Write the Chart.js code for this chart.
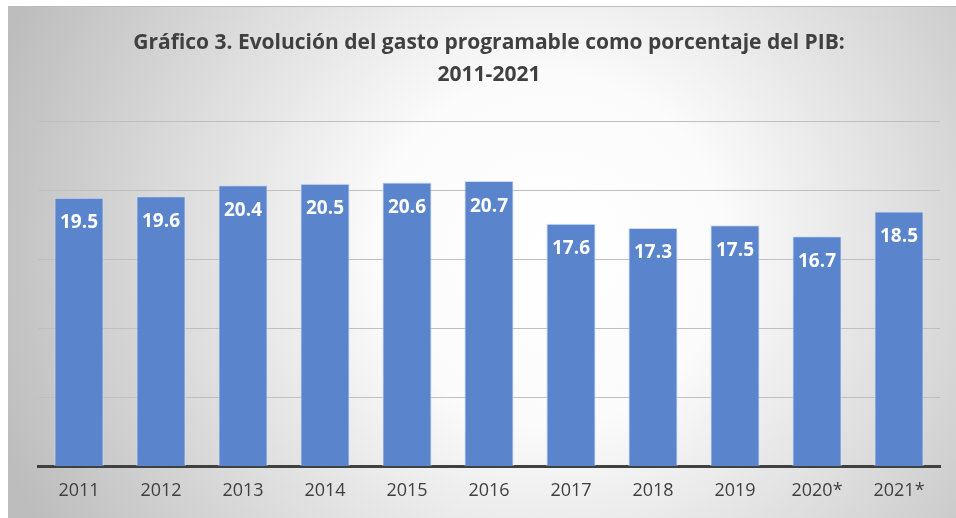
<!DOCTYPE html>
<html>
<head>
<meta charset="utf-8">
<script src="https://cdn.jsdelivr.net/npm/chart.js@4"></script>
<style>
  html, body { margin: 0; padding: 0; background: #ffffff; }
  #wrap { position: relative; width: 956px; height: 518px; }
</style>
</head>
<body>
<div id="wrap"><canvas id="c" width="956" height="518"></canvas></div>
<script>
const categories = ['2011','2012','2013','2014','2015','2016','2017','2018','2019','2020*','2021*'];
const values = [19.5, 19.6, 20.4, 20.5, 20.6, 20.7, 17.6, 17.3, 17.5, 16.7, 18.5];
const valueLabels = ['19.5','19.6','20.4','20.5','20.6','20.7','17.6','17.3','17.5','16.7','18.5'];
const titleLines = ['Gráfico 3. Evolución del gasto programable como porcentaje del PIB:', '2011-2021'];

const FONT = '"Open Sans", "Noto Sans", sans-serif';

const bgPlugin = {
  id: 'bg',
  beforeDraw(chart) {
    const ctx = chart.ctx;
    ctx.save();
    const x0 = 8, y0 = 6, w = chart.width - x0, h = chart.height - y0;
    const g = ctx.createRadialGradient(550, 250, 0, 550, 250, 580);
    g.addColorStop(0, '#ffffff');
    g.addColorStop(0.3, '#fbfbfb');
    g.addColorStop(1, '#bdbdbd');
    ctx.fillStyle = g;
    ctx.fillRect(x0, y0, w, h);
    ctx.strokeStyle = '#bcbcbc';
    ctx.lineWidth = 1;
    ctx.beginPath();
    ctx.moveTo(x0, y0 + 0.5);
    ctx.lineTo(chart.width, y0 + 0.5);
    ctx.stroke();
    ctx.restore();
  }
};

const labelPlugin = {
  id: 'valLabels',
  afterDatasetsDraw(chart) {
    const ctx = chart.ctx;
    const meta = chart.getDatasetMeta(0);
    ctx.save();
    ctx.font = 'bold 19px ' + FONT;
    ctx.fillStyle = '#ffffff';
    ctx.textAlign = 'center';
    ctx.textBaseline = 'middle';
    meta.data.forEach((bar, i) => {
      ctx.fillText(valueLabels[i], bar.x, bar.y + 25);
    });
    ctx.restore();
  }
};

new Chart(document.getElementById('c'), {
  type: 'bar',
  data: {
    labels: categories,
    datasets: [{
      data: values,
      backgroundColor: '#5A85CD',
      borderColor: 'rgba(205,218,242,0.95)',
      borderWidth: 1,
      categoryPercentage: 1,
      barPercentage: 0.6
    }]
  },
  options: {
    responsive: false,
    animation: false,
    devicePixelRatio: 1,
    layout: { padding: { left: 38, right: 16, top: 6, bottom: 2 } },
    plugins: {
      legend: { display: false },
      tooltip: { enabled: false },
      title: {
        display: true,
        text: titleLines,
        color: '#404040',
        font: { family: FONT, size: 21, weight: 'bold', lineHeight: 1.52 },
        padding: { top: 21, bottom: 31 }
      }
    },
    scales: {
      x: {
        grid: { display: false, drawTicks: false },
        border: { display: true, color: '#404040', width: 3 },
        ticks: { color: '#404040', font: { family: FONT, size: 18 }, padding: 14, maxRotation: 0 }
      },
      y: {
        min: 0, max: 25,
        ticks: { display: false, stepSize: 5 },
        grid: { color: '#bfbfbf', lineWidth: 1, drawTicks: false },
        border: { display: false }
      }
    }
  },
  plugins: [bgPlugin, labelPlugin]
});
</script>
</body>
</html>
